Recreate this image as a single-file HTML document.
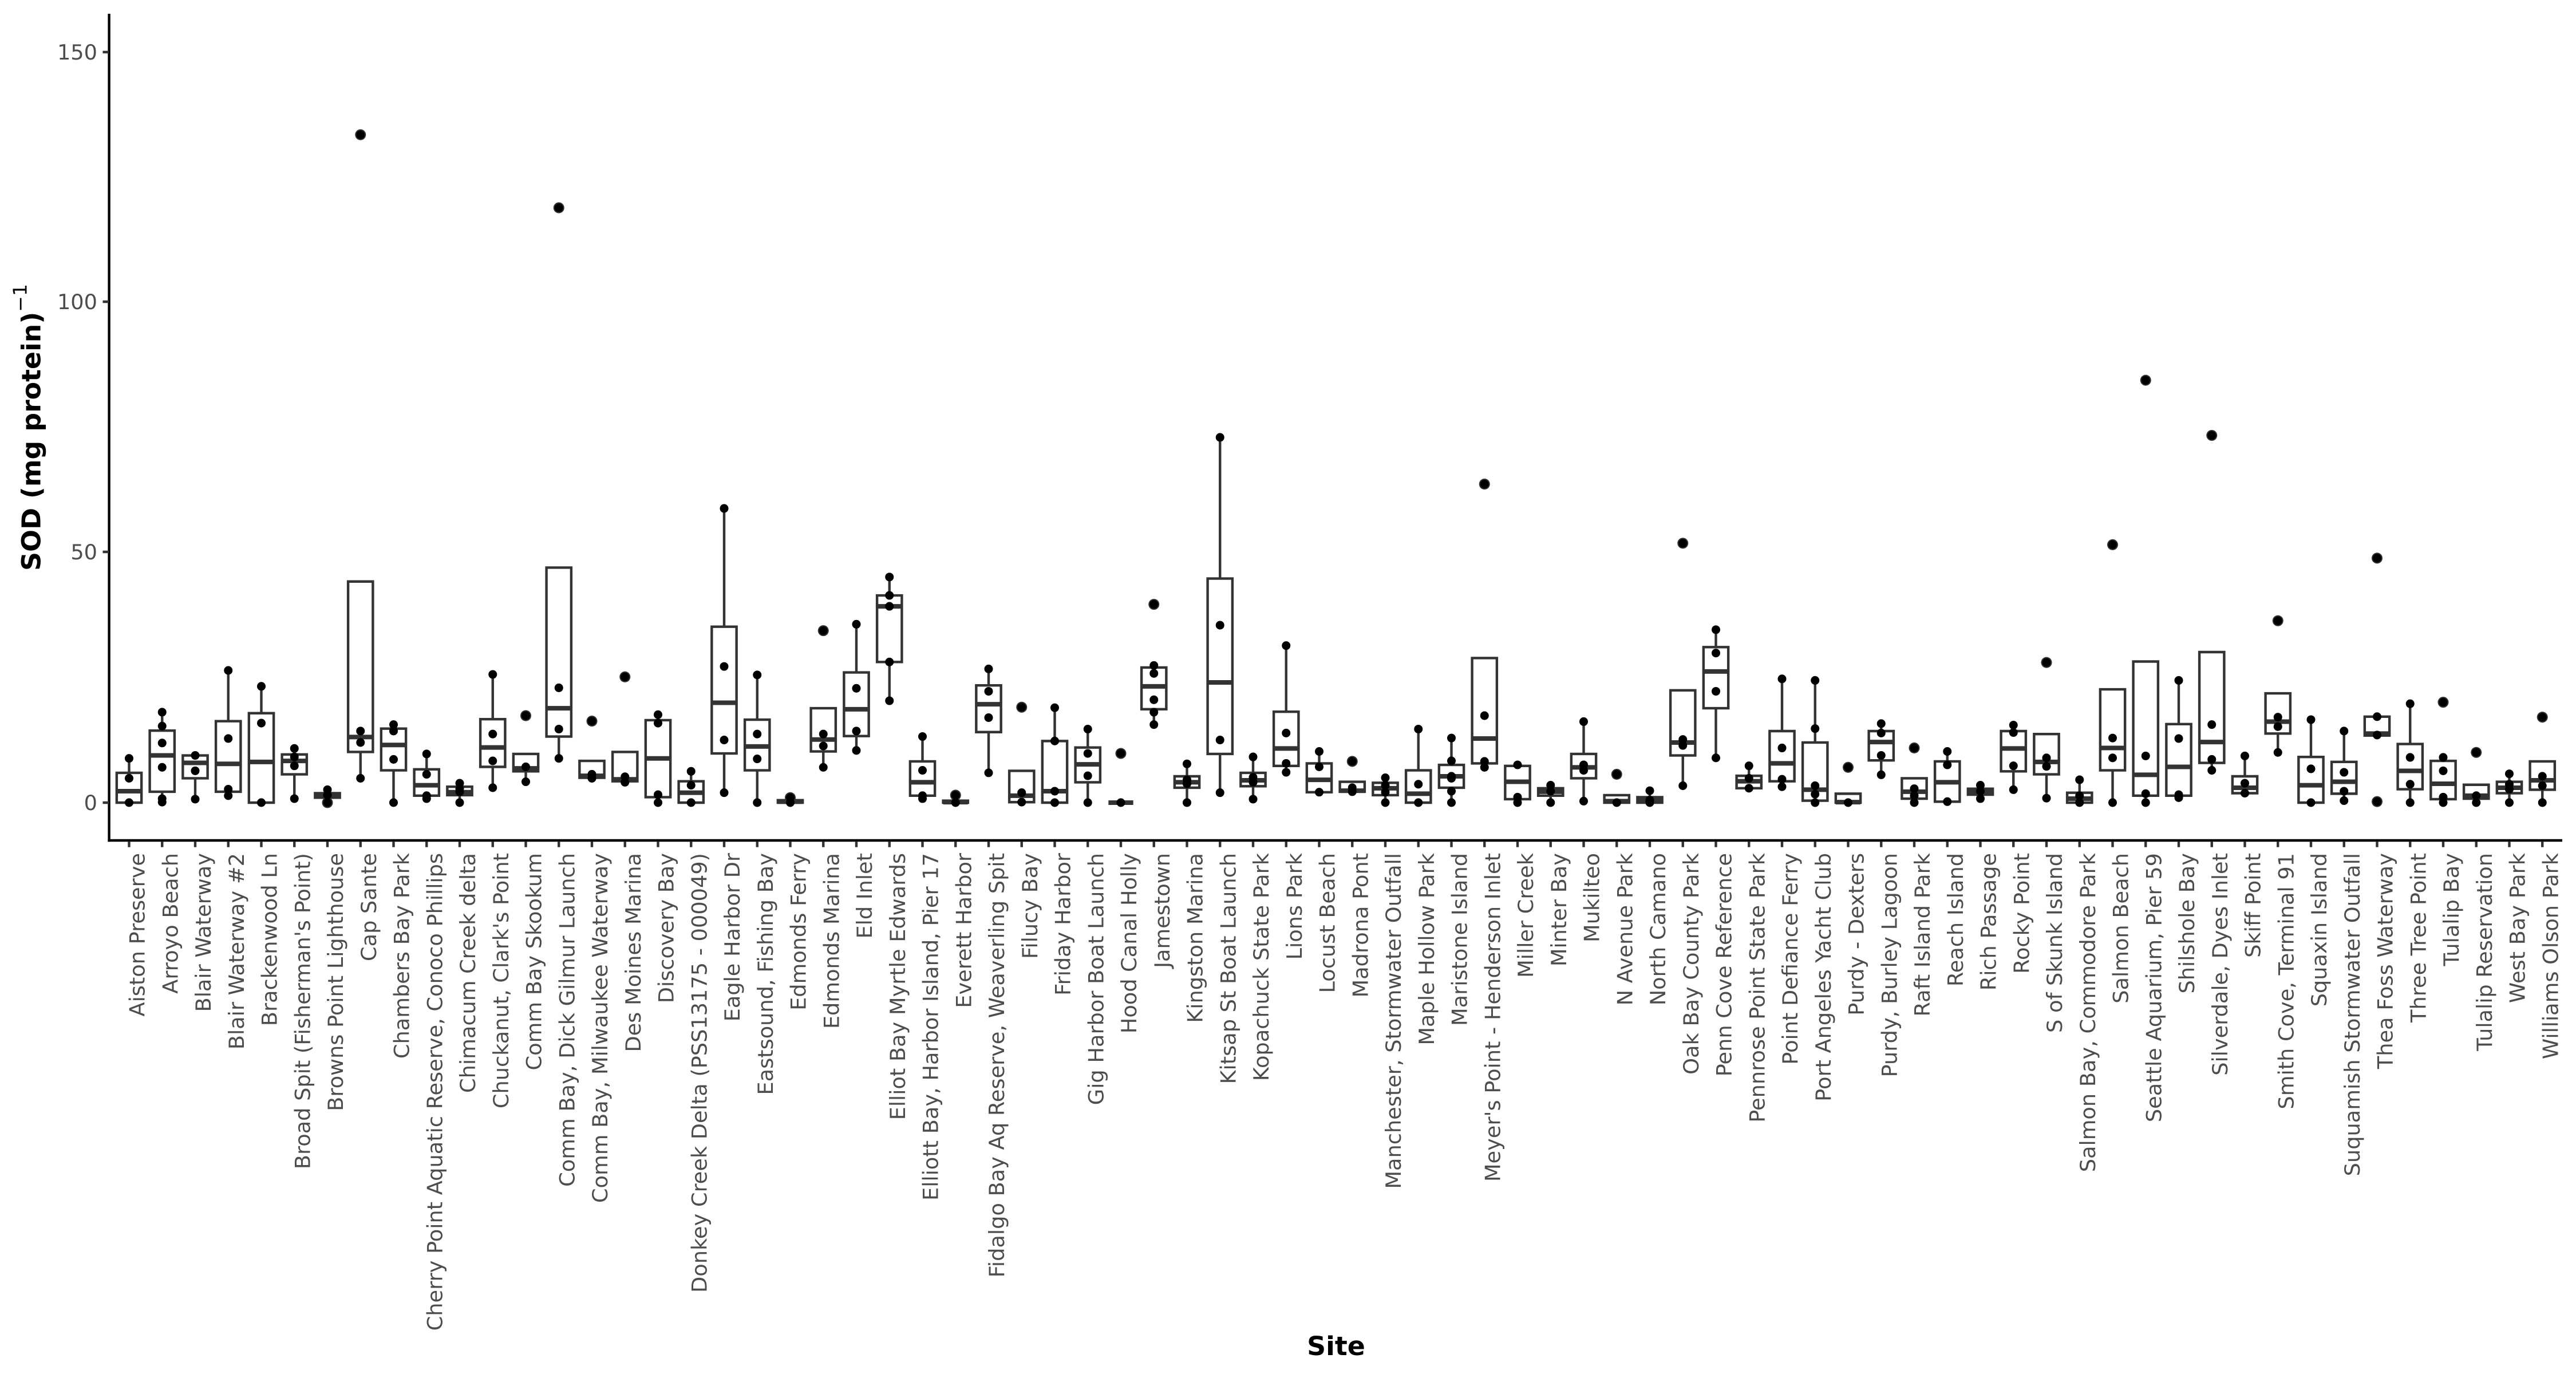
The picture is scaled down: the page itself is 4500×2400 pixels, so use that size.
<!DOCTYPE html>
<html>
<head>
<meta charset="utf-8">
<style>
html,body{margin:0;padding:0;background:#fff;}
svg{display:block;}
.b path,.b rect{vector-effect:non-scaling-stroke;}
.w{stroke:#333;stroke-width:4.4;fill:none;}
.b rect{fill:#fff;stroke:#333;stroke-width:4.4;}
.m{stroke:#333;stroke-width:8;fill:none;}
.o{stroke:#333;stroke-width:19;stroke-linecap:round;fill:none;}
.p{stroke:#000;stroke-width:15;stroke-linecap:round;fill:none;}
.lab text{font-family:"DejaVu Sans","Liberation Sans",sans-serif;font-size:36.7px;fill:#4D4D4D;}
</style>
</head>
<body>
<svg width="4500" height="2400" viewBox="0 0 4500 2400" xmlns="http://www.w3.org/2000/svg">
<rect x="0" y="0" width="4500" height="2400" fill="#fff"/>

<!-- boxes -->
<g class="b" transform="translate(225.5,1402) scale(1,-8.68)"><path class="w" d="M0 6V8.9"/><rect x="-21.65" y="0" width="43.3" height="6"/><path class="m" d="M-21.65 2.3H21.65"/><path class="p" d="M0 8.9v.01M0 4.9v.01M0 0v.01"/></g>
<g class="b" transform="translate(283.25,1402) scale(1,-8.68)"><path class="w" d="M0 .1V2.2M0 14.5V18.2"/><rect x="-21.65" y="2.2" width="43.3" height="12.3"/><path class="m" d="M-21.65 9.5H21.65"/><path class="p" d="M0 18.2v.01M0 15.4v.01M0 12v.01M0 7.1v.01M0 .8v.01M0 .1v.01"/></g>
<g class="b" transform="translate(341,1402) scale(1,-8.68)"><path class="w" d="M0 .7V4.9"/><rect x="-21.65" y="4.9" width="43.3" height="4.6"/><path class="m" d="M-21.65 8H21.65"/><path class="p" d="M0 9.5v.01M0 6.4v.01M0 .7v.01"/></g>
<g class="b" transform="translate(398.75,1402) scale(1,-8.68)"><path class="w" d="M0 1.4V2.2M0 16.4V26.6"/><rect x="-21.65" y="2.2" width="43.3" height="14.2"/><path class="m" d="M-21.65 7.8H21.65"/><path class="p" d="M0 26.6v.01M0 12.9v.01M0 2.7v.01M0 1.4v.01"/></g>
<g class="b" transform="translate(456.5,1402) scale(1,-8.68)"><path class="w" d="M0 18V23.4"/><rect x="-21.65" y="0" width="43.3" height="18"/><path class="m" d="M-21.65 8.2H21.65"/><path class="p" d="M0 23.4v.01M0 16v.01M0 0v.01"/></g>
<g class="b" transform="translate(514.25,1402) scale(1,-8.68)"><path class="w" d="M0 .8V5.7M0 9.7V10.9"/><rect x="-21.65" y="5.7" width="43.3" height="4"/><path class="m" d="M-21.65 8.4H21.65"/><path class="p" d="M0 10.9v.01M0 9.2v.01M0 7.4v.01M0 .8v.01"/></g>
<g class="b" transform="translate(572,1402) scale(1,-8.68)"><path class="w" d="M0 1.9V2.6"/><rect x="-21.65" y="1" width="43.3" height=".9"/><path class="m" d="M-21.65 1.4H21.65"/><path class="o" d="M0 0v.01"/><path class="p" d="M0 2.6v.01M0 1.5v.01M0 0v.01"/></g>
<g class="b" transform="translate(629.75,1402) scale(1,-8.68)"><path class="w" d="M0 4.9V10.2"/><rect x="-21.65" y="10.2" width="43.3" height="34.3"/><path class="m" d="M-21.65 13.2H21.65"/><path class="o" d="M0 134.4v.01"/><path class="p" d="M0 134.4v.01M0 14.4v.01M0 12.1v.01M0 4.9v.01"/></g>
<g class="b" transform="translate(687.5,1402) scale(1,-8.68)"><path class="w" d="M0 0V6.5M0 14.9V15.7"/><rect x="-21.65" y="6.5" width="43.3" height="8.4"/><path class="m" d="M-21.65 11.6H21.65"/><path class="p" d="M0 15.7v.01M0 14.4v.01M0 8.7v.01M0 0v.01"/></g>
<g class="b" transform="translate(745.25,1402) scale(1,-8.68)"><path class="w" d="M0 .8V1.4M0 6.7V9.8"/><rect x="-21.65" y="1.4" width="43.3" height="5.3"/><path class="m" d="M-21.65 3.5H21.65"/><path class="p" d="M0 9.8v.01M0 5.7v.01M0 1.4v.01M0 .8v.01"/></g>
<g class="b" transform="translate(803,1402) scale(1,-8.68)"><path class="w" d="M0 0V1.5M0 3.2V3.9"/><rect x="-21.65" y="1.5" width="43.3" height="1.7"/><path class="m" d="M-21.65 2.1H21.65"/><path class="p" d="M0 3.9v.01M0 2.8v.01M0 2.2v.01M0 0v.01"/></g>
<g class="b" transform="translate(860.75,1402) scale(1,-8.68)"><path class="w" d="M0 3V7.2M0 16.8V25.8"/><rect x="-21.65" y="7.2" width="43.3" height="9.6"/><path class="m" d="M-21.65 11.1H21.65"/><path class="p" d="M0 25.8v.01M0 13.8v.01M0 8.4v.01M0 3v.01"/></g>
<g class="b" transform="translate(918.5,1402) scale(1,-8.68)"><path class="w" d="M0 4.2V6.3"/><rect x="-21.65" y="6.3" width="43.3" height="3.5"/><path class="m" d="M-21.65 6.9H21.65"/><path class="o" d="M0 17.5v.01"/><path class="p" d="M0 17.5v.01M0 7.2v.01M0 4.2v.01"/></g>
<g class="b" transform="translate(976.25,1402) scale(1,-8.68)"><path class="w" d="M0 8.9V13.3"/><rect x="-21.65" y="13.3" width="43.3" height="34"/><path class="m" d="M-21.65 19H21.65"/><path class="o" d="M0 119.7v.01"/><path class="p" d="M0 119.7v.01M0 23.1v.01M0 14.8v.01M0 8.9v.01"/></g>
<g class="b" transform="translate(1034,1402) scale(1,-8.68)"><rect x="-21.65" y="5" width="43.3" height="3.4"/><path class="m" d="M-21.65 5.4H21.65"/><path class="o" d="M0 16.4v.01"/><path class="p" d="M0 16.4v.01M0 5.7v.01M0 4.9v.01"/></g>
<g class="b" transform="translate(1091.75,1402) scale(1,-8.68)"><rect x="-21.65" y="4.3" width="43.3" height="5.9"/><path class="m" d="M-21.65 4.7H21.65"/><path class="o" d="M0 25.3v.01"/><path class="p" d="M0 25.3v.01M0 5.2v.01M0 4.1v.01"/></g>
<g class="b" transform="translate(1149.5,1402) scale(1,-8.68)"><path class="w" d="M0 0V1.1M0 16.6V17.7"/><rect x="-21.65" y="1.1" width="43.3" height="15.5"/><path class="m" d="M-21.65 8.9H21.65"/><path class="p" d="M0 17.7v.01M0 16v.01M0 1.6v.01M0 0v.01"/></g>
<g class="b" transform="translate(1207.25,1402) scale(1,-8.68)"><path class="w" d="M0 4.3V6.3"/><rect x="-21.65" y="0" width="43.3" height="4.3"/><path class="m" d="M-21.65 2H21.65"/><path class="p" d="M0 6.3v.01M0 3.5v.01M0 0v.01"/></g>
<g class="b" transform="translate(1265,1402) scale(1,-8.68)"><path class="w" d="M0 2V9.9M0 35.4V59.2"/><rect x="-21.65" y="9.9" width="43.3" height="25.5"/><path class="m" d="M-21.65 20.1H21.65"/><path class="p" d="M0 59.2v.01M0 27.4v.01M0 12.6v.01M0 2v.01"/></g>
<g class="b" transform="translate(1322.75,1402) scale(1,-8.68)"><path class="w" d="M0 0V6.5M0 16.7V25.7"/><rect x="-21.65" y="6.5" width="43.3" height="10.2"/><path class="m" d="M-21.65 11.3H21.65"/><path class="p" d="M0 25.7v.01M0 13.8v.01M0 8.8v.01M0 0v.01"/></g>
<g class="b" transform="translate(1380.5,1402) scale(1,-8.68)"><rect x="-21.65" y="0" width="43.3" height=".5"/><path class="m" d="M-21.65 .2H21.65"/><path class="o" d="M0 1v.01"/><path class="p" d="M0 1v.01M0 0v.01"/></g>
<g class="b" transform="translate(1438.25,1402) scale(1,-8.68)"><path class="w" d="M0 7.1V10.3"/><rect x="-21.65" y="10.3" width="43.3" height="8.7"/><path class="m" d="M-21.65 12.7H21.65"/><path class="o" d="M0 34.6v.01"/><path class="p" d="M0 34.6v.01M0 13.8v.01M0 11.4v.01M0 7.1v.01"/></g>
<g class="b" transform="translate(1496,1402) scale(1,-8.68)"><path class="w" d="M0 10.5V13.4M0 26.2V35.9"/><rect x="-21.65" y="13.4" width="43.3" height="12.8"/><path class="m" d="M-21.65 18.8H21.65"/><path class="p" d="M0 35.9v.01M0 23v.01M0 14.4v.01M0 10.5v.01"/></g>
<g class="b" transform="translate(1553.75,1402) scale(1,-8.68)"><path class="w" d="M0 20.5V28.3M0 41.7V45.4"/><rect x="-21.65" y="28.3" width="43.3" height="13.4"/><path class="m" d="M-21.65 39.5H21.65"/><path class="p" d="M0 45.4v.01M0 41.7v.01M0 39.5v.01M0 28.3v.01M0 20.5v.01"/></g>
<g class="b" transform="translate(1611.5,1402) scale(1,-8.68)"><path class="w" d="M0 .8V1.4M0 8.3V13.3"/><rect x="-21.65" y="1.4" width="43.3" height="6.9"/><path class="m" d="M-21.65 4.1H21.65"/><path class="p" d="M0 13.3v.01M0 6.5v.01M0 1.4v.01M0 .8v.01"/></g>
<g class="b" transform="translate(1669.25,1402) scale(1,-8.68)"><rect x="-21.65" y="0" width="43.3" height=".4"/><path class="m" d="M-21.65 .1H21.65"/><path class="o" d="M0 1.5v.01"/><path class="p" d="M0 1.5v.01M0 0v.01"/></g>
<g class="b" transform="translate(1727,1402) scale(1,-8.68)"><path class="w" d="M0 6V14.2M0 23.6V26.9"/><rect x="-21.65" y="14.2" width="43.3" height="9.4"/><path class="m" d="M-21.65 19.8H21.65"/><path class="p" d="M0 26.9v.01M0 22.4v.01M0 17.1v.01M0 6v.01"/></g>
<g class="b" transform="translate(1784.75,1402) scale(1,-8.68)"><rect x="-21.65" y=".1" width="43.3" height="6.3"/><path class="m" d="M-21.65 1.4H21.65"/><path class="o" d="M0 19.2v.01"/><path class="p" d="M0 19.2v.01M0 2v.01M0 .1v.01"/></g>
<g class="b" transform="translate(1842.5,1402) scale(1,-8.68)"><path class="w" d="M0 12.4V19.1"/><rect x="-21.65" y="0" width="43.3" height="12.4"/><path class="m" d="M-21.65 2.3H21.65"/><path class="p" d="M0 19.1v.01M0 12.4v.01M0 2.3v.01M0 0v.01"/></g>
<g class="b" transform="translate(1900.25,1402) scale(1,-8.68)"><path class="w" d="M0 0V4.1M0 11.1V14.8"/><rect x="-21.65" y="4.1" width="43.3" height="7"/><path class="m" d="M-21.65 7.7H21.65"/><path class="p" d="M0 14.8v.01M0 9.9v.01M0 5.4v.01M0 0v.01"/></g>
<g class="b" transform="translate(1958,1402) scale(1,-8.68)"><path class="m" d="M-21.65 0H21.65"/><path class="o" d="M0 9.9v.01"/><path class="p" d="M0 9.9v.01M0 0v.01"/></g>
<g class="b" transform="translate(2015.75,1402) scale(1,-8.68)"><path class="w" d="M0 15.7V18.8M0 27.2V27.6"/><rect x="-21.65" y="18.8" width="43.3" height="8.4"/><path class="m" d="M-21.65 23.4H21.65"/><path class="o" d="M0 39.9v.01"/><path class="p" d="M0 39.9v.01M0 27.6v.01M0 26v.01M0 20.7v.01M0 18.2v.01M0 15.7v.01"/></g>
<g class="b" transform="translate(2073.5,1402) scale(1,-8.68)"><path class="w" d="M0 0V3M0 5.3V7.8"/><rect x="-21.65" y="3" width="43.3" height="2.3"/><path class="m" d="M-21.65 4.1H21.65"/><path class="p" d="M0 7.8v.01M0 4.6v.01M0 3.8v.01M0 0v.01"/></g>
<g class="b" transform="translate(2131.25,1402) scale(1,-8.68)"><path class="w" d="M0 2V9.8M0 45.1V73.5"/><rect x="-21.65" y="9.8" width="43.3" height="35.3"/><path class="m" d="M-21.65 24.2H21.65"/><path class="p" d="M0 73.5v.01M0 35.7v.01M0 12.6v.01M0 2v.01"/></g>
<g class="b" transform="translate(2189,1402) scale(1,-8.68)"><path class="w" d="M0 .7V3.3M0 6V9.2"/><rect x="-21.65" y="3.3" width="43.3" height="2.7"/><path class="m" d="M-21.65 4.5H21.65"/><path class="p" d="M0 9.2v.01M0 5.1v.01M0 4.1v.01M0 .7v.01"/></g>
<g class="b" transform="translate(2246.75,1402) scale(1,-8.68)"><path class="w" d="M0 6.1V7.4M0 18.3V31.6"/><rect x="-21.65" y="7.4" width="43.3" height="10.9"/><path class="m" d="M-21.65 10.9H21.65"/><path class="p" d="M0 31.6v.01M0 14v.01M0 7.9v.01M0 6.1v.01"/></g>
<g class="b" transform="translate(2304.5,1402) scale(1,-8.68)"><path class="w" d="M0 7.9V10.3"/><rect x="-21.65" y="2.1" width="43.3" height="5.8"/><path class="m" d="M-21.65 4.6H21.65"/><path class="p" d="M0 10.3v.01M0 7.2v.01M0 2.1v.01"/></g>
<g class="b" transform="translate(2362.25,1402) scale(1,-8.68)"><rect x="-21.65" y="2.2" width="43.3" height="2"/><path class="m" d="M-21.65 2.4H21.65"/><path class="o" d="M0 8.3v.01"/><path class="p" d="M0 8.3v.01M0 3v.01M0 2.2v.01"/></g>
<g class="b" transform="translate(2420,1402) scale(1,-8.68)"><path class="w" d="M0 0V1.5M0 4V5"/><rect x="-21.65" y="1.5" width="43.3" height="2.5"/><path class="m" d="M-21.65 2.9H21.65"/><path class="p" d="M0 5v.01M0 3.5v.01M0 2.1v.01M0 0v.01"/></g>
<g class="b" transform="translate(2477.75,1402) scale(1,-8.68)"><path class="w" d="M0 6.5V14.8"/><rect x="-21.65" y="0" width="43.3" height="6.5"/><path class="m" d="M-21.65 1.8H21.65"/><path class="p" d="M0 14.8v.01M0 3.7v.01M0 0v.01"/></g>
<g class="b" transform="translate(2535.5,1402) scale(1,-8.68)"><path class="w" d="M0 0V3M0 7.6V13"/><rect x="-21.65" y="3" width="43.3" height="4.6"/><path class="m" d="M-21.65 5.3H21.65"/><path class="p" d="M0 13v.01M0 8.4v.01M0 5.3v.01M0 4.9v.01M0 2.3v.01M0 0v.01"/></g>
<g class="b" transform="translate(2593.25,1402) scale(1,-8.68)"><path class="w" d="M0 7.1V7.9"/><rect x="-21.65" y="7.9" width="43.3" height="21.2"/><path class="m" d="M-21.65 12.9H21.65"/><path class="o" d="M0 64.1v.01"/><path class="p" d="M0 64.1v.01M0 17.5v.01M0 8.3v.01M0 7.1v.01"/></g>
<g class="b" transform="translate(2651,1402) scale(1,-8.68)"><path class="w" d="M0 0V.7M0 7.4V7.6"/><rect x="-21.65" y=".7" width="43.3" height="6.7"/><path class="m" d="M-21.65 4.2H21.65"/><path class="p" d="M0 7.6v.01M0 1.1v.01M0 0v.01"/></g>
<g class="b" transform="translate(2708.75,1402) scale(1,-8.68)"><path class="w" d="M0 0V1.4M0 2.9V3.5"/><rect x="-21.65" y="1.4" width="43.3" height="1.5"/><path class="m" d="M-21.65 2.2H21.65"/><path class="p" d="M0 3.5v.01M0 2.3v.01M0 0v.01"/></g>
<g class="b" transform="translate(2766.5,1402) scale(1,-8.68)"><path class="w" d="M0 .3V4.9M0 9.8V16.3"/><rect x="-21.65" y="4.9" width="43.3" height="4.9"/><path class="m" d="M-21.65 7.1H21.65"/><path class="p" d="M0 16.3v.01M0 7.6v.01M0 6.5v.01M0 .3v.01"/></g>
<g class="b" transform="translate(2824.25,1402) scale(1,-8.68)"><rect x="-21.65" y="0" width="43.3" height="1.5"/><path class="m" d="M-21.65 .3H21.65"/><path class="o" d="M0 5.7v.01"/><path class="p" d="M0 5.7v.01M0 0v.01"/></g>
<g class="b" transform="translate(2882,1402) scale(1,-8.68)"><path class="w" d="M0 1.1V2.4"/><rect x="-21.65" y="0" width="43.3" height="1.1"/><path class="m" d="M-21.65 .5H21.65"/><path class="p" d="M0 2.4v.01M0 .5v.01M0 0v.01"/></g>
<g class="b" transform="translate(2939.75,1402) scale(1,-8.68)"><path class="w" d="M0 3.4V9.5"/><rect x="-21.65" y="9.5" width="43.3" height="13.1"/><path class="m" d="M-21.65 12.1H21.65"/><path class="o" d="M0 52.2v.01"/><path class="p" d="M0 52.2v.01M0 12.7v.01M0 11.5v.01M0 3.4v.01"/></g>
<g class="b" transform="translate(2997.5,1402) scale(1,-8.68)"><path class="w" d="M0 9V19M0 31.3V34.8"/><rect x="-21.65" y="19" width="43.3" height="12.3"/><path class="m" d="M-21.65 26.4H21.65"/><path class="p" d="M0 34.8v.01M0 30.1v.01M0 22.4v.01M0 9v.01"/></g>
<g class="b" transform="translate(3055.25,1402) scale(1,-8.68)"><path class="w" d="M0 5.4V7.4"/><rect x="-21.65" y="2.9" width="43.3" height="2.5"/><path class="m" d="M-21.65 4.3H21.65"/><path class="p" d="M0 7.4v.01M0 4.9v.01M0 2.9v.01"/></g>
<g class="b" transform="translate(3113,1402) scale(1,-8.68)"><path class="w" d="M0 3.2V4.3M0 14.4V24.9"/><rect x="-21.65" y="4.3" width="43.3" height="10.1"/><path class="m" d="M-21.65 7.9H21.65"/><path class="p" d="M0 24.9v.01M0 11v.01M0 4.7v.01M0 3.2v.01"/></g>
<g class="b" transform="translate(3170.75,1402) scale(1,-8.68)"><path class="w" d="M0 0V.4M0 12.1V24.6"/><rect x="-21.65" y=".4" width="43.3" height="11.7"/><path class="m" d="M-21.65 2.6H21.65"/><path class="p" d="M0 24.6v.01M0 14.9v.01M0 3.4v.01M0 1.7v.01M0 0v.01"/></g>
<g class="b" transform="translate(3228.5,1402) scale(1,-8.68)"><rect x="-21.65" y="0" width="43.3" height="1.8"/><path class="m" d="M-21.65 .1H21.65"/><path class="o" d="M0 7.1v.01"/><path class="p" d="M0 7.1v.01M0 0v.01"/></g>
<g class="b" transform="translate(3286.25,1402) scale(1,-8.68)"><path class="w" d="M0 5.6V8.5M0 14.4V15.9"/><rect x="-21.65" y="8.5" width="43.3" height="5.9"/><path class="m" d="M-21.65 12.2H21.65"/><path class="p" d="M0 15.9v.01M0 14v.01M0 9.5v.01M0 5.6v.01"/></g>
<g class="b" transform="translate(3344,1402) scale(1,-8.68)"><path class="w" d="M0 0V.8"/><rect x="-21.65" y=".8" width="43.3" height="4.1"/><path class="m" d="M-21.65 2.2H21.65"/><path class="o" d="M0 11v.01"/><path class="p" d="M0 11v.01M0 2.8v.01M0 1.4v.01M0 0v.01"/></g>
<g class="b" transform="translate(3401.75,1402) scale(1,-8.68)"><path class="w" d="M0 8.3V10.3"/><rect x="-21.65" y=".2" width="43.3" height="8.1"/><path class="m" d="M-21.65 4.1H21.65"/><path class="p" d="M0 10.3v.01M0 7.6v.01M0 .2v.01"/></g>
<g class="b" transform="translate(3459.5,1402) scale(1,-8.68)"><path class="w" d="M0 .8V1.6M0 2.8V3.5"/><rect x="-21.65" y="1.6" width="43.3" height="1.2"/><path class="m" d="M-21.65 2.2H21.65"/><path class="p" d="M0 3.5v.01M0 2.3v.01M0 .8v.01"/></g>
<g class="b" transform="translate(3517.25,1402) scale(1,-8.68)"><path class="w" d="M0 2.6V6.3M0 14.4V15.6"/><rect x="-21.65" y="6.3" width="43.3" height="8.1"/><path class="m" d="M-21.65 10.9H21.65"/><path class="p" d="M0 15.6v.01M0 14.1v.01M0 7.4v.01M0 2.6v.01"/></g>
<g class="b" transform="translate(3575,1402) scale(1,-8.68)"><path class="w" d="M0 .9V5.7"/><rect x="-21.65" y="5.7" width="43.3" height="8.1"/><path class="m" d="M-21.65 8.2H21.65"/><path class="o" d="M0 28.2v.01"/><path class="p" d="M0 28.2v.01M0 9v.01M0 7.3v.01M0 .9v.01"/></g>
<g class="b" transform="translate(3632.75,1402) scale(1,-8.68)"><path class="w" d="M0 2V4.6"/><rect x="-21.65" y="0" width="43.3" height="2"/><path class="m" d="M-21.65 .8H21.65"/><path class="p" d="M0 4.6v.01M0 1.4v.01M0 0v.01"/></g>
<g class="b" transform="translate(3690.5,1402) scale(1,-8.68)"><path class="w" d="M0 0V6.5"/><rect x="-21.65" y="6.5" width="43.3" height="16.3"/><path class="m" d="M-21.65 11H21.65"/><path class="o" d="M0 51.9v.01"/><path class="p" d="M0 51.9v.01M0 13v.01M0 9v.01M0 0v.01"/></g>
<g class="b" transform="translate(3748.25,1402) scale(1,-8.68)"><path class="w" d="M0 0V1.4"/><rect x="-21.65" y="1.4" width="43.3" height="27"/><path class="m" d="M-21.65 5.6H21.65"/><path class="o" d="M0 85v.01"/><path class="p" d="M0 85v.01M0 9.4v.01M0 1.8v.01M0 0v.01"/></g>
<g class="b" transform="translate(3806,1402) scale(1,-8.68)"><path class="w" d="M0 1V1.4M0 15.8V24.6"/><rect x="-21.65" y="1.4" width="43.3" height="14.4"/><path class="m" d="M-21.65 7.2H21.65"/><path class="p" d="M0 24.6v.01M0 12.9v.01M0 1.6v.01M0 1v.01"/></g>
<g class="b" transform="translate(3863.75,1402) scale(1,-8.68)"><path class="w" d="M0 6.5V8"/><rect x="-21.65" y="8" width="43.3" height="22.3"/><path class="m" d="M-21.65 12.2H21.65"/><path class="o" d="M0 73.9v.01"/><path class="p" d="M0 73.9v.01M0 15.7v.01M0 8.7v.01M0 6.5v.01"/></g>
<g class="b" transform="translate(3921.5,1402) scale(1,-8.68)"><path class="w" d="M0 5.3V9.4"/><rect x="-21.65" y="1.9" width="43.3" height="3.4"/><path class="m" d="M-21.65 3H21.65"/><path class="p" d="M0 9.4v.01M0 3.9v.01M0 1.9v.01"/></g>
<g class="b" transform="translate(3979.25,1402) scale(1,-8.68)"><path class="w" d="M0 10.1V13.9"/><rect x="-21.65" y="13.9" width="43.3" height="8.1"/><path class="m" d="M-21.65 16.3H21.65"/><path class="o" d="M0 36.6v.01"/><path class="p" d="M0 36.6v.01M0 17.2v.01M0 15.3v.01M0 10.1v.01"/></g>
<g class="b" transform="translate(4037,1402) scale(1,-8.68)"><path class="w" d="M0 9.2V16.7"/><rect x="-21.65" y="0" width="43.3" height="9.2"/><path class="m" d="M-21.65 3.5H21.65"/><path class="p" d="M0 16.7v.01M0 6.8v.01M0 0v.01"/></g>
<g class="b" transform="translate(4094.75,1402) scale(1,-8.68)"><path class="w" d="M0 .4V1.8M0 8.2V14.4"/><rect x="-21.65" y="1.8" width="43.3" height="6.4"/><path class="m" d="M-21.65 4.2H21.65"/><path class="p" d="M0 14.4v.01M0 6.1v.01M0 2.3v.01M0 .4v.01"/></g>
<g class="b" transform="translate(4152.5,1402) scale(1,-8.68)"><rect x="-21.65" y="13.5" width="43.3" height="3.8"/><path class="m" d="M-21.65 13.9H21.65"/><path class="o" d="M0 49.2v.01M0 .2v.01"/><path class="p" d="M0 49.2v.01M0 17.3v.01M0 13.6v.01M0 .2v.01"/></g>
<g class="b" transform="translate(4210.25,1402) scale(1,-8.68)"><path class="w" d="M0 0V2.7M0 11.8V19.9"/><rect x="-21.65" y="2.7" width="43.3" height="9.1"/><path class="m" d="M-21.65 6.4H21.65"/><path class="p" d="M0 19.9v.01M0 9.1v.01M0 3.7v.01M0 0v.01"/></g>
<g class="b" transform="translate(4268,1402) scale(1,-8.68)"><path class="w" d="M0 0V.7M0 8.4V9.1"/><rect x="-21.65" y=".7" width="43.3" height="7.7"/><path class="m" d="M-21.65 3.8H21.65"/><path class="o" d="M0 20.2v.01"/><path class="p" d="M0 20.2v.01M0 9.1v.01M0 6.4v.01M0 1.1v.01M0 0v.01"/></g>
<g class="b" transform="translate(4325.75,1402) scale(1,-8.68)"><path class="w" d="M0 0V.8"/><rect x="-21.65" y=".8" width="43.3" height="2.8"/><path class="m" d="M-21.65 1.4H21.65"/><path class="o" d="M0 10.1v.01"/><path class="p" d="M0 10.1v.01M0 1.4v.01M0 0v.01"/></g>
<g class="b" transform="translate(4383.5,1402) scale(1,-8.68)"><path class="w" d="M0 0V1.9M0 4.2V5.8"/><rect x="-21.65" y="1.9" width="43.3" height="2.3"/><path class="m" d="M-21.65 3H21.65"/><path class="p" d="M0 5.8v.01M0 3.7v.01M0 2.7v.01M0 0v.01"/></g>
<g class="b" transform="translate(4441.25,1402) scale(1,-8.68)"><path class="w" d="M0 0V2.6"/><rect x="-21.65" y="2.6" width="43.3" height="5.7"/><path class="m" d="M-21.65 4.5H21.65"/><path class="o" d="M0 17.2v.01"/><path class="p" d="M0 17.2v.01M0 5.3v.01M0 3.4v.01M0 0v.01"/></g>

<!-- axes -->
<path d="M190.6 24V1470.2" stroke="#000" stroke-width="4.4" fill="none"/>
<path d="M188.4 1468H4476" stroke="#000" stroke-width="4.4" fill="none"/>
<path d="M179.5 1402H190M179.5 964H190M179.5 527H190M179.5 91H190" stroke="#333" stroke-width="4.4" fill="none"/>
<path d="M223.3 1474.9H4444" stroke="#333" stroke-width="9.6" stroke-dasharray="4.4 53.35" fill="none"/>

<!-- y tick labels -->
<g font-family="DejaVu Sans, Liberation Sans, sans-serif" font-size="36.7" fill="#4D4D4D" text-anchor="end">
<text x="170" y="1415">0</text>
<text x="170" y="977">50</text>
<text x="170" y="540">100</text>
<text x="170" y="104">150</text>
</g>

<!-- x tick labels -->
<g class="lab" text-anchor="end">
<text transform="translate(252.5,1490) rotate(-90)">Aiston Preserve</text>
<text transform="translate(310.25,1490) rotate(-90)">Arroyo Beach</text>
<text transform="translate(368,1490) rotate(-90)">Blair Waterway</text>
<text transform="translate(425.75,1490) rotate(-90)">Blair Waterway #2</text>
<text transform="translate(483.5,1490) rotate(-90)">Brackenwood Ln</text>
<text transform="translate(541.25,1490) rotate(-90)">Broad Spit (Fisherman's Point)</text>
<text transform="translate(599,1490) rotate(-90)">Browns Point Lighthouse</text>
<text transform="translate(656.75,1490) rotate(-90)">Cap Sante</text>
<text transform="translate(714.5,1490) rotate(-90)">Chambers Bay Park</text>
<text transform="translate(772.25,1490) rotate(-90)">Cherry Point Aquatic Reserve, Conoco Phillips</text>
<text transform="translate(830,1490) rotate(-90)">Chimacum Creek delta</text>
<text transform="translate(887.75,1490) rotate(-90)">Chuckanut, Clark's Point</text>
<text transform="translate(945.5,1490) rotate(-90)">Comm Bay Skookum</text>
<text transform="translate(1003.25,1490) rotate(-90)">Comm Bay, Dick Gilmur Launch</text>
<text transform="translate(1061,1490) rotate(-90)">Comm Bay, Milwaukee Waterway</text>
<text transform="translate(1118.75,1490) rotate(-90)">Des Moines Marina</text>
<text transform="translate(1176.5,1490) rotate(-90)">Discovery Bay</text>
<text transform="translate(1234.25,1490) rotate(-90)">Donkey Creek Delta (PSS13175 - 000049)</text>
<text transform="translate(1292,1490) rotate(-90)">Eagle Harbor Dr</text>
<text transform="translate(1349.75,1490) rotate(-90)">Eastsound, Fishing Bay</text>
<text transform="translate(1407.5,1490) rotate(-90)">Edmonds Ferry</text>
<text transform="translate(1465.25,1490) rotate(-90)">Edmonds Marina</text>
<text transform="translate(1523,1490) rotate(-90)">Eld Inlet</text>
<text transform="translate(1580.75,1490) rotate(-90)">Elliot Bay Myrtle Edwards</text>
<text transform="translate(1638.5,1490) rotate(-90)">Elliott Bay, Harbor Island, Pier 17</text>
<text transform="translate(1696.25,1490) rotate(-90)">Everett Harbor</text>
<text transform="translate(1754,1490) rotate(-90)">Fidalgo Bay Aq Reserve, Weaverling Spit</text>
<text transform="translate(1811.75,1490) rotate(-90)">Filucy Bay</text>
<text transform="translate(1869.5,1490) rotate(-90)">Friday Harbor</text>
<text transform="translate(1927.25,1490) rotate(-90)">Gig Harbor Boat Launch</text>
<text transform="translate(1985,1490) rotate(-90)">Hood Canal Holly</text>
<text transform="translate(2042.75,1490) rotate(-90)">Jamestown</text>
<text transform="translate(2100.5,1490) rotate(-90)">Kingston Marina</text>
<text transform="translate(2158.25,1490) rotate(-90)">Kitsap St Boat Launch</text>
<text transform="translate(2216,1490) rotate(-90)">Kopachuck State Park</text>
<text transform="translate(2273.75,1490) rotate(-90)">Lions Park</text>
<text transform="translate(2331.5,1490) rotate(-90)">Locust Beach</text>
<text transform="translate(2389.25,1490) rotate(-90)">Madrona Pont</text>
<text transform="translate(2447,1490) rotate(-90)">Manchester, Stormwater Outfall</text>
<text transform="translate(2504.75,1490) rotate(-90)">Maple Hollow Park</text>
<text transform="translate(2562.5,1490) rotate(-90)">Maristone Island</text>
<text transform="translate(2620.25,1490) rotate(-90)">Meyer's Point - Henderson Inlet</text>
<text transform="translate(2678,1490) rotate(-90)">Miller Creek</text>
<text transform="translate(2735.75,1490) rotate(-90)">Minter Bay</text>
<text transform="translate(2793.5,1490) rotate(-90)">Mukilteo</text>
<text transform="translate(2851.25,1490) rotate(-90)">N Avenue Park</text>
<text transform="translate(2909,1490) rotate(-90)">North Camano</text>
<text transform="translate(2966.75,1490) rotate(-90)">Oak Bay County Park</text>
<text transform="translate(3024.5,1490) rotate(-90)">Penn Cove Reference</text>
<text transform="translate(3082.25,1490) rotate(-90)">Pennrose Point State Park</text>
<text transform="translate(3140,1490) rotate(-90)">Point Defiance Ferry</text>
<text transform="translate(3197.75,1490) rotate(-90)">Port Angeles Yacht Club</text>
<text transform="translate(3255.5,1490) rotate(-90)">Purdy - Dexters</text>
<text transform="translate(3313.25,1490) rotate(-90)">Purdy, Burley Lagoon</text>
<text transform="translate(3371,1490) rotate(-90)">Raft Island Park</text>
<text transform="translate(3428.75,1490) rotate(-90)">Reach Island</text>
<text transform="translate(3486.5,1490) rotate(-90)">Rich Passage</text>
<text transform="translate(3544.25,1490) rotate(-90)">Rocky Point</text>
<text transform="translate(3602,1490) rotate(-90)">S of Skunk Island</text>
<text transform="translate(3659.75,1490) rotate(-90)">Salmon Bay, Commodore Park</text>
<text transform="translate(3717.5,1490) rotate(-90)">Salmon Beach</text>
<text transform="translate(3775.25,1490) rotate(-90)">Seattle Aquarium, Pier 59</text>
<text transform="translate(3833,1490) rotate(-90)">Shilshole Bay</text>
<text transform="translate(3890.75,1490) rotate(-90)">Silverdale, Dyes Inlet</text>
<text transform="translate(3948.5,1490) rotate(-90)">Skiff Point</text>
<text transform="translate(4006.25,1490) rotate(-90)">Smith Cove, Terminal 91</text>
<text transform="translate(4064,1490) rotate(-90)">Squaxin Island</text>
<text transform="translate(4121.75,1490) rotate(-90)">Suquamish Stormwater Outfall</text>
<text transform="translate(4179.5,1490) rotate(-90)">Thea Foss Waterway</text>
<text transform="translate(4237.25,1490) rotate(-90)">Three Tree Point</text>
<text transform="translate(4295,1490) rotate(-90)">Tulalip Bay</text>
<text transform="translate(4352.75,1490) rotate(-90)">Tulalip Reservation</text>
<text transform="translate(4410.5,1490) rotate(-90)">West Bay Park</text>
<text transform="translate(4468.25,1490) rotate(-90)">Williams Olson Park</text>
</g>

<!-- axis titles -->
<text transform="translate(70.7,746.5) rotate(-90)" text-anchor="middle" font-family="DejaVu Sans, Liberation Sans, sans-serif" font-size="45.8" font-weight="bold" fill="#000">SOD (mg protein)<tspan font-size="33" font-weight="normal" dy="-24">−1</tspan></text>
<text x="2334" y="2367" text-anchor="middle" font-family="DejaVu Sans, Liberation Sans, sans-serif" font-size="45.8" font-weight="bold" fill="#000">Site</text>
</svg>
</body>
</html>
